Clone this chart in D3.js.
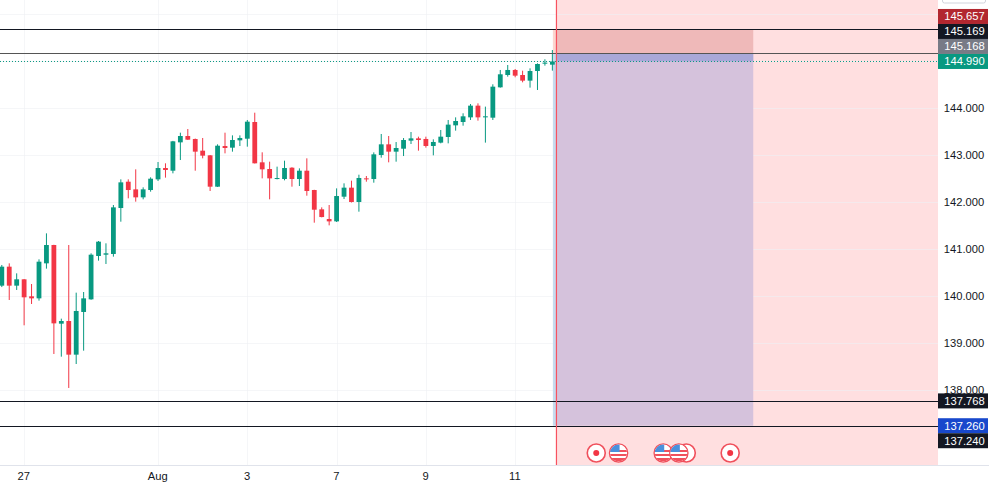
<!DOCTYPE html>
<html><head><meta charset="utf-8">
<script src="https://cdn.jsdelivr.net/npm/d3@7"></script>
<style>html,body{margin:0;padding:0;background:#fff}svg{display:block}
text{font-family:"Liberation Sans",Arial,sans-serif}</style></head>
<body><svg id="c" width="989" height="486"></svg>
<script>
const opens=[140.220,140.624,140.220,140.355,139.993,139.950,140.695,141.085,139.411,139.468,138.752,139.660,139.929,140.851,140.879,140.894,141.872,142.432,142.269,142.099,142.255,142.482,142.723,142.666,143.269,143.404,143.340,143.092,142.993,142.326,143.191,143.156,143.312,143.347,143.702,142.844,142.702,142.489,142.489,142.730,142.489,142.666,142.255,141.844,141.638,141.588,142.113,142.305,142.000,142.503,142.489,143.000,143.227,143.071,143.134,143.305,143.354,143.341,143.192,143.263,143.383,143.631,143.702,143.801,144.050,143.801,143.794,144.440,144.702,144.809,144.702,144.582,144.787,144.943,144.922];
const highs=[140.660,140.695,140.482,140.360,140.255,140.780,141.333,141.090,139.518,141.085,140.071,140.085,140.908,141.170,141.121,141.936,142.482,142.482,142.695,142.312,142.525,142.851,142.823,143.300,143.475,143.553,143.350,143.362,143.000,143.227,143.475,143.418,143.418,143.745,143.900,143.057,142.858,142.752,142.879,142.740,142.716,142.929,142.260,141.886,141.936,142.290,142.397,142.454,142.581,142.553,143.056,143.447,143.404,143.276,143.361,143.489,143.390,143.390,143.333,143.532,143.745,143.801,143.887,144.085,144.099,144.029,144.504,144.809,144.915,144.830,144.794,144.844,144.950,145.036,145.234];
const lows=[140.190,139.915,140.128,139.376,139.830,139.901,140.582,138.766,138.709,138.043,138.553,138.837,139.920,140.752,140.681,140.837,141.581,142.078,142.007,142.057,142.220,142.447,142.518,142.610,142.893,143.320,142.666,142.929,142.234,142.320,143.035,143.071,143.191,143.177,142.820,142.503,142.057,142.482,142.461,142.326,142.340,142.134,141.560,141.673,141.503,141.574,142.063,141.990,141.794,142.432,142.411,142.943,142.844,142.858,142.978,143.234,143.092,143.156,142.993,143.248,143.248,143.518,143.624,143.745,143.731,143.263,143.745,144.433,144.667,144.653,144.546,144.433,144.383,144.901,144.795];
const closes=[140.624,140.220,140.355,139.972,139.950,140.730,141.085,139.418,139.468,138.752,139.681,139.950,140.879,141.156,140.908,141.886,142.418,142.255,142.099,142.269,142.496,142.723,142.681,143.291,143.404,143.326,143.071,142.986,142.326,143.198,143.149,143.319,143.362,143.709,142.823,142.695,142.503,142.510,142.723,142.489,142.666,142.234,141.836,141.680,141.588,142.127,142.305,142.000,142.511,142.482,143.014,143.227,143.071,143.149,143.319,143.354,143.319,143.192,143.277,143.390,143.646,143.723,143.823,144.050,143.801,143.823,144.454,144.717,144.809,144.688,144.582,144.787,144.936,144.965,144.990];
const priceTicks=[138,139,140,141,142,143,144,145,146];
const timeTickBars=[3,21,33,45,57,69];
const timeTickLabels=["27","Aug","3","7","9","11"];
const levelLines=[145.68,145.168,137.768,137.24];
const lastPrice=144.990;
const entry=145.168, target=137.24, stop=145.68;
const tagsUpper=[["145.657","#b2272f"],["145.169","#131722"],["145.168","#787b86"],["144.990","#089981"]];
const tagsLower=[["137.768","#131722",137.768],["137.260","#1848cc",137.24],["137.240","#131722",null]];
const events=[{bar:79.9,kind:"dot"},{bar:82.9,kind:"flag"},{bar:92,kind:"dot0"},{bar:88.9,kind:"flag"},{bar:91,kind:"flag"},{bar:97.9,kind:"dot"}];

const W=989,H=486,plotR=938,plotB=465;
const x=d3.scaleLinear().domain([0,1]).range([1.8,9.24]);
const y=d3.scaleLinear().domain([138,144]).range([390,108]);
const zoneStart=74.55, zoneEnd=101;
const svg=d3.select("#c");
const up="#089981",down="#f23645";

svg.append("rect").attr("x",x(zoneStart)).attr("y",0).attr("width",plotR-x(zoneStart)).attr("height",plotB).attr("fill","#ffdfe0");

const g=svg.append("g");
g.selectAll("line.h").data(priceTicks).join("line").attr("x1",0).attr("x2",plotR)
  .attr("y1",d=>Math.round(y(d))+.5).attr("y2",d=>Math.round(y(d))+.5).attr("stroke","#eef0f3").attr("stroke-opacity",.6);
g.selectAll("line.v").data(timeTickBars).join("line").attr("y1",0).attr("y2",plotB)
  .attr("x1",d=>Math.round(x(d))+.5).attr("x2",d=>Math.round(x(d))+.5).attr("stroke","#eef0f3").attr("stroke-opacity",.6);

const zx=x(zoneStart), zw=x(zoneEnd)-zx;
svg.append("rect").attr("x",zx).attr("y",y(stop)).attr("width",zw).attr("height",y(entry)-y(stop)).attr("fill","#efb9b9");
svg.append("rect").attr("x",zx).attr("y",y(entry)).attr("width",zw).attr("height",y(target)-y(entry)).attr("fill","#d5c2dc");
svg.append("rect").attr("x",zx).attr("y",y(entry)).attr("width",zw).attr("height",y(lastPrice)-y(entry)).attr("fill","#a9a8d8");
svg.append("rect").attr("x",x(74.07)).attr("y",y(stop)).attr("width",zx-x(74.07)).attr("height",y(entry)-y(stop)).attr("fill","#fbd5cf");
svg.append("rect").attr("x",x(74.07)).attr("y",y(entry)).attr("width",zx-x(74.07)).attr("height",y(target)-y(entry)).attr("fill","#c6dbee");

const idx=d3.range(opens.length);
const col=i=>closes[i]>=opens[i]?up:down;
svg.append("g").selectAll("line").data(idx).join("line")
  .attr("x1",i=>x(i)).attr("x2",i=>x(i)).attr("y1",i=>y(highs[i])).attr("y2",i=>y(lows[i]))
  .attr("stroke",col).attr("stroke-width",1);
svg.append("g").selectAll("rect").data(idx).join("rect")
  .attr("x",i=>x(i)-2.4).attr("width",4.8)
  .attr("y",i=>y(Math.max(opens[i],closes[i])))
  .attr("height",i=>Math.max(1,Math.abs(y(opens[i])-y(closes[i]))))
  .attr("fill",col);

svg.append("g").selectAll("line").data(levelLines).join("line").attr("x1",0).attr("x2",plotR)
  .attr("y1",d=>Math.round(y(d))+.5).attr("y2",d=>Math.round(y(d))+.5)
  .attr("stroke",(d,i)=>i==1?"#555":"#131722").attr("stroke-width",1);
svg.append("line").attr("x1",0).attr("x2",plotR).attr("y1",y(lastPrice)).attr("y2",y(lastPrice))
  .attr("stroke",up).attr("stroke-dasharray","1 2").attr("stroke-width",1);
svg.append("line").attr("x1",zx).attr("x2",zx).attr("y1",0).attr("y2",plotB).attr("stroke","#f7525f").attr("stroke-width",1.2);

const defs=svg.append("defs");
const evY=453;
const ev=svg.append("g").selectAll("g").data(events).join("g").attr("transform",d=>`translate(${x(d.bar)},${evY})`);
ev.each(function(d,i){
  const s=d3.select(this);
  defs.append("clipPath").attr("id","fc"+i).append("circle").attr("r",8.5);
  s.append("circle").attr("r",9).attr("fill","#fff").attr("stroke","#f0505c").attr("stroke-width",1.6);
  if(d.kind==="dot") s.append("circle").attr("r",3).attr("fill","#f23645");
  if(d.kind==="flag"){
    const c=s.append("g").attr("clip-path",`url(#fc${i})`);
    c.append("rect").attr("x",-9).attr("y",-9).attr("width",18).attr("height",18).attr("fill","#fff");
    [-3,1,5].forEach(v=>c.append("rect").attr("x",-9).attr("y",v).attr("width",18).attr("height",2).attr("fill","#f0505c"));
    c.append("rect").attr("x",-9).attr("y",5).attr("width",18).attr("height",4).attr("fill","#f0505c");
    c.append("rect").attr("x",-9).attr("y",-9).attr("width",10).attr("height",8).attr("fill","#4a90dc");
  }
});

svg.append("line").attr("x1",0).attr("x2",W).attr("y1",plotB+.5).attr("y2",plotB+.5).attr("stroke","#e0e3eb");
svg.append("rect").attr("x",942.5).attr("y",-6).attr("width",43).attr("height",9).attr("rx",2).attr("fill","#fff").attr("stroke","#d1d4dc");
const ya=d3.axisRight(y).tickValues(priceTicks.filter(d=>d<=144)).tickFormat(d3.format(".3f")).tickSize(0).tickPadding(0);
const yg=svg.append("g").attr("transform",`translate(964,0)`).call(ya);
yg.select(".domain").remove();
yg.selectAll("text").attr("text-anchor","middle").attr("x",0).attr("font-size",11.2).attr("font-family",null).attr("fill","#131722");
const xa=d3.axisBottom(x).tickValues(timeTickBars).tickFormat((d,i)=>timeTickLabels[i]).tickSize(0).tickPadding(0);
const xg=svg.append("g").attr("transform",`translate(-0.8,${plotB+7})`).call(xa);
xg.select(".domain").remove();
xg.selectAll("text").attr("font-size",11.2).attr("font-family",null).attr("fill","#131722");

function tag(label,fill,cy){
  svg.append("rect").attr("x",plotR).attr("y",cy-7.5).attr("width",W-plotR-1).attr("height",15).attr("fill",fill);
  svg.append("text").attr("x",964.5).attr("y",cy+4).attr("text-anchor","middle").attr("font-size",11.2).attr("font-weight",500).attr("fill","#fff").text(label);
}
const base=y(lastPrice);
tagsUpper.forEach((t,i)=>tag(t[0],t[1],base-(tagsUpper.length-1-i)*15));
tag(tagsLower[0][0],tagsLower[0][1],y(tagsLower[0][2]));
tag(tagsLower[1][0],tagsLower[1][1],y(tagsLower[1][2]));
tag(tagsLower[2][0],tagsLower[2][1],y(tagsLower[1][2])+15);
</script></body></html>
